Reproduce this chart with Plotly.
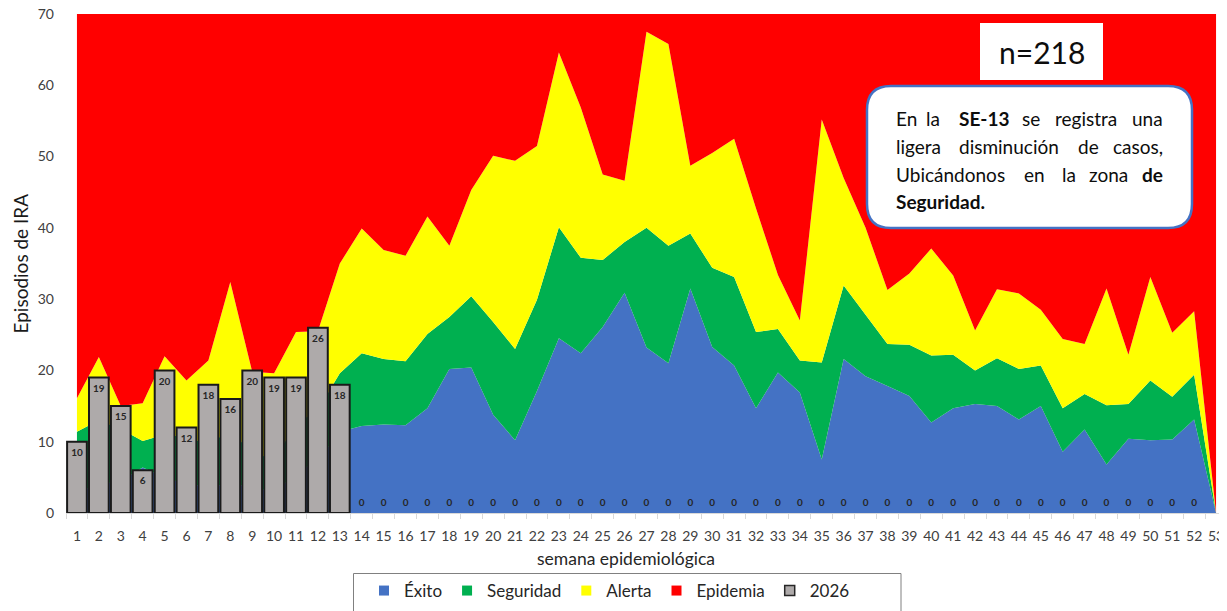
import plotly.graph_objects as go

# ---------------- DATA ----------------
semanas = list(range(1, 54))

# Upper limit of each zone of the endemic channel (episodes of IRA)
exito = [3.0, 4.0, 4.5, 6.4, 5.0, 4.0, 3.8, 4.0, 3.8, 2.8, 5.6, 7.4, 11.4,
         12.2, 12.4, 12.3, 14.7, 20.2, 20.4, 13.8, 10.2, 17.1, 24.5, 22.4, 26.1,
         30.9, 23.2, 21.0, 31.5, 23.3, 20.7, 14.7, 19.7, 16.9, 7.5, 21.6, 19.2,
         17.8, 16.4, 12.7, 14.7, 15.3, 15.0, 13.1, 15.0, 8.6, 11.7, 6.8, 10.4,
         10.2, 10.3, 13.1, 0.0]
seguridad = [11.4, 13.0, 11.8, 10.1, 11.0, 10.6, 9.7, 11.5, 8.5, 7.5, 12.5, 14.5, 19.6,
             22.4, 21.6, 21.3, 25.1, 27.5, 30.4, 26.8, 23.0, 29.9, 40.1, 35.8, 35.5,
             38.0, 40.0, 37.5, 39.2, 34.4, 33.1, 25.4, 25.8, 21.4, 21.1, 31.9, 27.8,
             23.7, 23.6, 22.1, 22.2, 20.0, 21.7, 20.2, 20.7, 14.7, 16.7, 15.1, 15.3,
             18.6, 16.3, 19.4, 0.0]
alerta = [16.1, 21.9, 15.0, 15.4, 22.0, 18.6, 21.4, 32.4, 19.8, 19.6, 25.4, 25.5, 35.0,
          39.9, 36.9, 36.1, 41.6, 37.5, 45.3, 50.1, 49.4, 51.5, 64.6, 56.9, 47.5,
          46.6, 67.5, 65.8, 48.7, 50.5, 52.5, 42.7, 33.4, 27.0, 55.2, 47.0, 40.0,
          31.3, 33.6, 37.1, 33.3, 25.6, 31.4, 30.8, 28.5, 24.4, 23.7, 31.5, 22.2,
          33.1, 25.3, 28.3, 0.0]
EPIDEMIA_TOPE = 70

semanas_2026 = list(range(1, 53))
casos_2026 = [10, 19, 15, 6, 20, 12, 18, 16, 20, 19, 19, 26, 18,
              0, 0, 0, 0, 0, 0, 0, 0, 0, 0, 0, 0, 0, 0, 0, 0, 0, 0, 0, 0,
              0, 0, 0, 0, 0, 0, 0, 0, 0, 0, 0, 0, 0, 0, 0, 0, 0, 0, 0]

y_ticks = [0, 10, 20, 30, 40, 50, 60, 70]
total_n = "n=218"

# ---------------- STYLE / LAYOUT HELPERS ----------------
# The page body has a default 8px margin, so the figure is drawn 8px smaller
# and all target-pixel positions are shifted by that offset.
OFF = 8
W, H = 1227 - OFF, 611 - OFF
L_REF, R_REF, T_REF, B_REF = 66, 1227, 14, 513
FONT = "Lato"


def xp(px):
    return (px - L_REF) / (R_REF - L_REF)


def yp(py):
    return (B_REF - py) / (B_REF - T_REF)


C_EXITO = "#4472C4"
C_SEG = "#00B050"
C_ALE = "#FFFF00"
C_EPI = "#FF0000"
C_BAR = "#AEAAAA"

fig = go.Figure()

fig.add_trace(go.Scatter(x=semanas, y=exito, mode="none", fill="tozeroy",
                         fillcolor=C_EXITO, showlegend=False, hoverinfo="skip"))
fig.add_trace(go.Scatter(x=semanas, y=seguridad, mode="none", fill="tonexty",
                         fillcolor=C_SEG, showlegend=False, hoverinfo="skip"))
fig.add_trace(go.Scatter(x=semanas, y=alerta, mode="none", fill="tonexty",
                         fillcolor=C_ALE, showlegend=False, hoverinfo="skip"))
fig.add_trace(go.Scatter(x=semanas, y=[EPIDEMIA_TOPE] * len(semanas), mode="none",
                         fill="tonexty", fillcolor=C_EPI, showlegend=False,
                         hoverinfo="skip"))

# bars on an overlaying axis so they are drawn above the areas
fig.add_trace(go.Bar(
    x=semanas_2026, y=casos_2026, width=0.9, yaxis="y2",
    marker=dict(color=C_BAR,
                line=dict(color="#1a1a1a",
                          width=[2 if v > 0 else 0 for v in casos_2026])),
    showlegend=False))

fig.add_trace(go.Scatter(
    x=semanas_2026, yaxis="y2",
    y=[v - 1.63 if v > 0 else 1.4 for v in casos_2026],
    mode="text", text=[str(v) for v in casos_2026],
    textfont=dict(family=FONT, size=10, color="#262626", weight="bold"),
    showlegend=False, hoverinfo="skip"))

# legend entries
for name, col, lc, lw in [("Éxito", C_EXITO, C_EXITO, 0), ("Seguridad", C_SEG, C_SEG, 0),
                          ("Alerta", C_ALE, C_ALE, 0), ("Epidemia", C_EPI, C_EPI, 0),
                          ("2026", C_BAR, "#262626", 1.5)]:
    fig.add_trace(go.Scatter(x=[None], y=[None], mode="markers", name=name,
                             marker=dict(symbol="square", size=10, color=col,
                                         line=dict(color=lc, width=lw))))

annotations = []
shapes = []


def ann(text, x, y, size, color="#0d0d0d", xanchor="center", **kw):
    d = dict(text=text, x=x, y=y, xref="paper", yref="paper", showarrow=False,
             xanchor=xanchor, yanchor="middle",
             font=dict(family=FONT, size=size, color=color))
    d.update(kw)
    annotations.append(d)


# axis titles
ann("Episodios de IRA", xp(20), yp(263.5), 19, "#1a1a1a", textangle=-90)
ann("semana epidemiológica", xp(626), yp(558), 17.5, "#262626")

# legend frame
shapes.append(dict(type="rect", xref="paper", yref="paper", x0=xp(353.5), x1=xp(901),
                   y0=yp(640), y1=yp(573.5), fillcolor="white",
                   line=dict(color="#808080", width=1), layer="below"))

# n=218 box
shapes.append(dict(type="rect", xref="paper", yref="paper", x0=xp(980), x1=xp(1103),
                   y0=yp(80), y1=yp(23), fillcolor="white", line=dict(width=0)))
ann(total_n, xp(1041.5), yp(52), 30)

# rounded comment box
bx0, bx1, by0, by1, rad = 867, 1192, 86, 228, 24
rx, ry = rad / (R_REF - L_REF), rad / (B_REF - T_REF)
X0, X1, Yt, Yb = xp(bx0), xp(bx1), yp(by0), yp(by1)
path = (f"M{X0 + rx},{Yt} L{X1 - rx},{Yt} Q{X1},{Yt} {X1},{Yt - ry} "
        f"L{X1},{Yb + ry} Q{X1},{Yb} {X1 - rx},{Yb} L{X0 + rx},{Yb} "
        f"Q{X0},{Yb} {X0},{Yb + ry} L{X0},{Yt - ry} Q{X0},{Yt} {X0 + rx},{Yt} Z")
shapes.append(dict(type="path", xref="paper", yref="paper", path=path,
                   fillcolor="white", line=dict(color="#4472C4", width=2.5)))

text_lines = [
    (118.3, [("En", 894.3, False), ("la", 924, False), ("SE-13", 956.5, True),
             ("se", 1020, False), ("registra", 1052.7, False), ("una", None, False)]),
    (146.7, [("ligera", 894.3, False), ("disminución", 956.7, False), ("de", 1076, False),
             ("casos,", None, False)]),
    (174.0, [("Ubicándonos", 894.3, False), ("en", 1021.7, False), ("la", 1060, False),
             ("zona", 1087.3, False), ("de", None, True)]),
    (201.7, [("Seguridad.", 894.3, True)]),
]
for ypx, words in text_lines:
    for word, xpx, bold in words:
        ann(f"<b>{word}</b>" if bold else word,
            xp(xpx if xpx is not None else 1164.5), yp(ypx), 19,
            xanchor="left" if xpx is not None else "right")

fig.update_layout(
    template="none",
    width=W, height=H,
    margin=dict(l=L_REF - OFF, r=0, t=T_REF - OFF, b=H - (B_REF - OFF), pad=0,
                autoexpand=False),
    paper_bgcolor="white", plot_bgcolor="white",
    barmode="overlay",
    font=dict(family=FONT),
    xaxis=dict(range=[0.5, 53.5], tickmode="array", tickvals=semanas,
               ticktext=[str(s) for s in semanas], showgrid=False, zeroline=False,
               showline=True, linecolor="#d9d9d9", linewidth=1, ticks="",
               automargin=False, ticklabelstandoff=10, ticklabeloverflow="allow",
               tickfont=dict(family=FONT, size=14, color="#404040"),
               minor=dict(tickmode="array", tickvals=[s - 0.5 for s in semanas] + [53.5],
                          ticks="outside", ticklen=5, tickcolor="#d9d9d9",
                          showgrid=False)),
    yaxis=dict(range=[0, 70], tickmode="array", tickvals=y_ticks, showgrid=False,
               zeroline=False, showline=False, ticks="", ticklabelstandoff=11,
               automargin=False, ticklabeloverflow="allow",
               tickfont=dict(family=FONT, size=14, color="#404040")),
    yaxis2=dict(range=[0, 70], overlaying="y", visible=False, showgrid=False,
                zeroline=False, automargin=False),
    legend=dict(orientation="h", x=xp(364), xanchor="left", y=yp(573), yanchor="top",
                borderwidth=0, bgcolor="rgba(0,0,0,0)",
                traceorder="normal",
                font=dict(family=FONT, size=17, color="#262626"),
                itemclick=False, itemdoubleclick=False),
    annotations=annotations,
    shapes=shapes,
    showlegend=True,
)

fig.write_html("out.html")
